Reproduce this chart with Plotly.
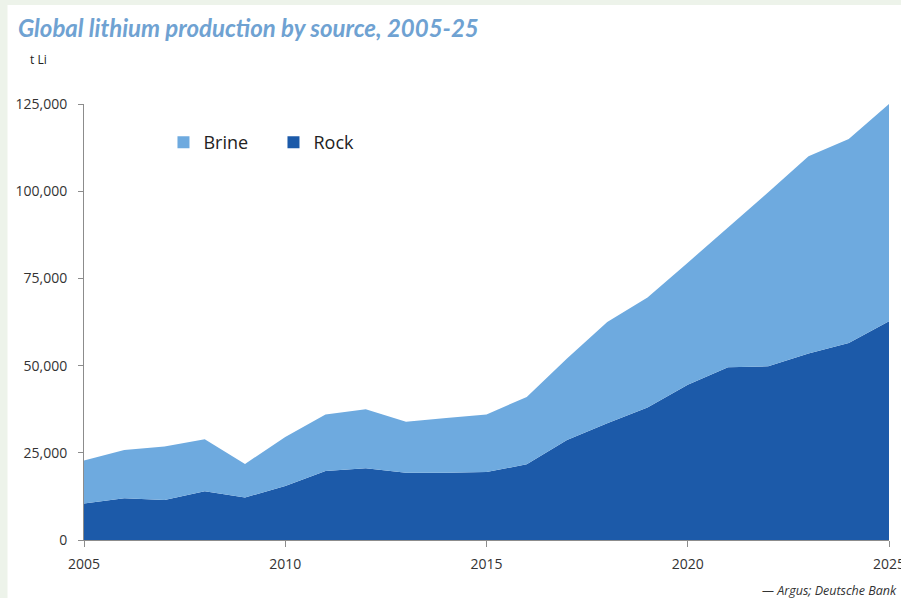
import plotly.graph_objects as go

years = list(range(2005, 2026))
rock = [10500, 12000, 11500, 14000, 12200, 15500, 19800, 20600, 19300, 19300,
        19500, 21700, 28700, 33500, 38000, 44500, 49500, 49800, 53500, 56500, 62700]
total = [22800, 25800, 26800, 28900, 21800, 29500, 36000, 37500, 33900, 35000,
         36000, 41000, 52000, 62500, 69500, 79500, 89600, 99700, 110000, 115000, 125000]
brine = [t - r for t, r in zip(total, rock)]
yticks = [0, 25000, 50000, 75000, 100000, 125000]
xticks = [2005, 2010, 2015, 2020, 2025]

ROCK_C = "#1c5aa9"
BRINE_C = "#6eaadf"
W, H = 901, 598
L, R, T, B = 83.5, 12.3, 104, 58
pw, ph = W - L - R, H - T - B

fig = go.Figure()
fig.add_trace(go.Scatter(x=years, y=rock, stackgroup="s", mode="none",
                         fillcolor=ROCK_C, showlegend=False, hoverinfo="skip"))
fig.add_trace(go.Scatter(x=years, y=brine, stackgroup="s", mode="none",
                         fillcolor=BRINE_C, showlegend=False, hoverinfo="skip"))
fig.add_trace(go.Scatter(x=[None], y=[None], mode="markers", name="Brine",
                         marker=dict(symbol="square", size=12, color=BRINE_C)))
fig.add_trace(go.Scatter(x=[None], y=[None], mode="markers", name="Rock",
                         marker=dict(symbol="square", size=12, color=ROCK_C)))

def px_x(p):
    return (p - L) / pw

def px_y(p):
    return (H - B - p) / ph

fig.add_shape(type="rect", xref="paper", yref="paper", layer="below",
              x0=px_x(7), x1=px_x(W + 5), y0=px_y(H + 5), y1=px_y(5),
              fillcolor="white", line=dict(width=0))

fig.add_annotation(text="<b><i>Global lithium production by source, 2005-25</i></b>",
                   xref="paper", yref="paper", x=px_x(15), y=px_y(27),
                   xanchor="left", yanchor="middle", showarrow=False,
                   font=dict(family="Lato", size=24, color="#6fa2d2"))
fig.add_annotation(text="t Li", xref="paper", yref="paper", x=px_x(27), y=px_y(60),
                   xanchor="left", yanchor="middle", showarrow=False,
                   font=dict(family="Open Sans", size=12, color="#222"))
fig.add_annotation(text="<i>— Argus; Deutsche Bank</i>", xref="paper", yref="paper",
                   x=px_x(899), y=px_y(590), xanchor="right", yanchor="middle",
                   showarrow=False, font=dict(family="Open Sans", size=12.5, color="#333"))

fig.update_layout(
    width=W, height=H,
    margin=dict(l=L, r=R, t=T, b=B, autoexpand=False),
    paper_bgcolor="#edf3ea", plot_bgcolor="white",
    font=dict(family="Open Sans", size=14, color="#333"),
    legend=dict(orientation="h", x=px_x(163), y=px_y(124), xanchor="left", yanchor="top",
                font=dict(size=18, color="#222"), bgcolor="rgba(0,0,0,0)",
                entrywidth=65, itemwidth=30, traceorder="normal"),
    xaxis=dict(range=[2005, 2025], tickvals=xticks, showgrid=False, zeroline=False,
               showline=True, linecolor="#8c8c8c", linewidth=1, ticklabeloverflow="allow",
               automargin=False,
               ticks="outside", ticklen=6, tickcolor="#8c8c8c", ticklabelstandoff=5),
    yaxis=dict(range=[0, 125000], tickvals=yticks, tickformat=",d", showgrid=False,
               zeroline=False, showline=True, linecolor="#8c8c8c", linewidth=1,
               automargin=False,
               ticks="outside", ticklen=5, tickcolor="#8c8c8c", ticklabelstandoff=8),
)

fig.write_html("out.html")
